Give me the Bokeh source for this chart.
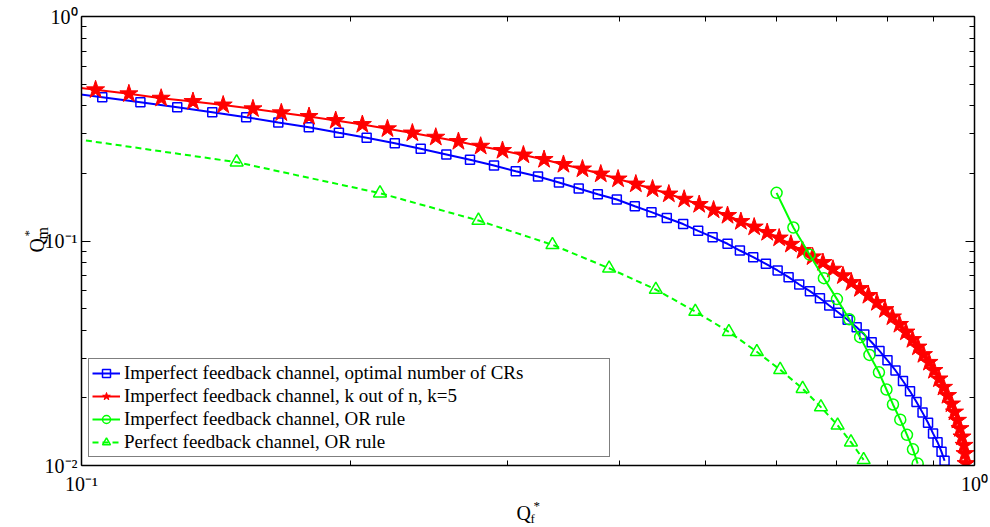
from math import pi

from bokeh.plotting import figure
from bokeh.models import (LogAxis, FixedTicker, Legend, LegendItem,
                          Range1d, CustomJSTickFormatter)
from bokeh.core.properties import value
from bokeh.embed import file_html
from bokeh.resources import INLINE

# ---- data: false-alarm probability Qf* vs missed-detection probability Qm* ----
opt_qf = [0.0956, 0.1055, 0.1164, 0.1280, 0.1401, 0.1529, 0.1661, 0.1797, 0.1942,
          0.2086, 0.2243, 0.2398, 0.2562, 0.2723, 0.2897, 0.3064, 0.3245, 0.3425,
          0.3604, 0.3786, 0.3976, 0.4165, 0.4348, 0.4523, 0.4718, 0.4904, 0.5090,
          0.5290, 0.5461, 0.5652, 0.5840, 0.6019, 0.6192, 0.6364, 0.6542, 0.6713,
          0.6876, 0.7045, 0.7210, 0.7380, 0.7526, 0.7671, 0.7827, 0.7990, 0.8157,
          0.8316, 0.8468, 0.8611, 0.8746, 0.8871, 0.8986, 0.9091, 0.9185, 0.9257]
opt_qm = [0.4586, 0.4370, 0.4152, 0.3944, 0.3747, 0.3560, 0.3372, 0.3213, 0.3034,
          0.2882, 0.2727, 0.2575, 0.2428, 0.2300, 0.2169, 0.2046, 0.1938, 0.1822,
          0.1713, 0.1616, 0.1531, 0.1429, 0.1344, 0.1266, 0.1190, 0.1110, 0.1040,
          0.0972, 0.0907, 0.0847, 0.0791, 0.0739, 0.0690, 0.0640, 0.0598, 0.0556,
          0.0516, 0.0479, 0.0446, 0.0413, 0.0383, 0.0354, 0.0324, 0.0294, 0.0265,
          0.0238, 0.0214, 0.0192, 0.0172, 0.0155, 0.0139, 0.0127, 0.0115, 0.0105]

kn_qf = [0.0952, 0.1037, 0.1130, 0.1228, 0.1333, 0.1441, 0.1556, 0.1674, 0.1798,
         0.1926, 0.2063, 0.2201, 0.2347, 0.2493, 0.2643, 0.2799, 0.2961, 0.3125,
         0.3296, 0.3465, 0.3639, 0.3815, 0.3989, 0.4176, 0.4360, 0.4547, 0.4730,
         0.4917, 0.5103, 0.5290, 0.5475, 0.5666, 0.5859, 0.6043, 0.6229, 0.6419,
         0.6587, 0.6765, 0.6942, 0.7123, 0.7281, 0.7443, 0.7607, 0.7776, 0.7938,
         0.8093, 0.8241, 0.8380, 0.8522, 0.8644, 0.8767, 0.8893, 0.9008, 0.9125,
         0.9232, 0.9328, 0.9424, 0.9498, 0.9571, 0.9633, 0.9683, 0.9733, 0.9758,
         0.9784]
kn_qm = [0.4913, 0.4715, 0.4526, 0.4326, 0.4182, 0.4035, 0.3880, 0.3724, 0.3586,
         0.3442, 0.3303, 0.3161, 0.3027, 0.2900, 0.2775, 0.2644, 0.2530, 0.2416,
         0.2307, 0.2192, 0.2093, 0.1988, 0.1889, 0.1794, 0.1705, 0.1619, 0.1535,
         0.1454, 0.1374, 0.1299, 0.1221, 0.1154, 0.1091, 0.1031, 0.0967, 0.0907,
         0.0850, 0.0802, 0.0749, 0.0700, 0.0653, 0.0614, 0.0572, 0.0532, 0.0495,
         0.0459, 0.0425, 0.0393, 0.0364, 0.0337, 0.0312, 0.0288, 0.0265, 0.0243,
         0.0223, 0.0205, 0.0188, 0.0173, 0.0159, 0.0146, 0.0134, 0.0123, 0.0113,
         0.0102]

or_imp_qf = [0.6003, 0.6269, 0.6537, 0.6782, 0.7014, 0.7240, 0.7446, 0.7627,
             0.7816, 0.7969, 0.8104, 0.8258, 0.8402, 0.8533, 0.8637]
or_imp_qm = [0.1639, 0.1148, 0.0869, 0.0683, 0.0551, 0.0448, 0.0373, 0.0311,
             0.0260, 0.0218, 0.0187, 0.0160, 0.0137, 0.0118, 0.0102]

or_perf_qf = [0.0846, 0.1492, 0.2159, 0.2783, 0.3368, 0.3898, 0.4397, 0.4868,
              0.5308, 0.5705, 0.6059, 0.6420, 0.6730, 0.7026, 0.7272, 0.7514]
or_perf_qm = [0.3106, 0.2244, 0.1633, 0.1234, 0.0962, 0.0756, 0.0608, 0.0485,
              0.0394, 0.0321, 0.0267, 0.0220, 0.0182, 0.0151, 0.0127, 0.0106]

labels = ["Imperfect feedback channel, optimal number of CRs",
          "Imperfect feedback channel, k out of n, k=5",
          "Imperfect feedback channel, OR rule",
          "Perfect feedback channel, OR rule"]

x_major = [0.1, 1.0]
x_minor = [0.2, 0.3, 0.4, 0.5, 0.6, 0.7, 0.8, 0.9]
y_major = [0.01, 0.1, 1.0]
y_minor = [0.02, 0.03, 0.04, 0.05, 0.06, 0.07, 0.08, 0.09,
           0.2, 0.3, 0.4, 0.5, 0.6, 0.7, 0.8, 0.9]

SERIF = "Liberation Serif"
BLUE, RED, GREEN = "#0000ff", "#ff0000", "#00ff00"

X_MIN, X_MAX = 0.1, 1.0
Y_MIN, Y_MAX = 0.01, 1.0

p = figure(width=990, height=527, x_axis_type="log", y_axis_type="log",
           x_range=Range1d(X_MIN, X_MAX), y_range=Range1d(Y_MIN, Y_MAX),
           output_backend="svg", toolbar_location=None,
           min_border_left=81, min_border_right=16,
           min_border_top=16, min_border_bottom=62)
p.xgrid.visible = False
p.ygrid.visible = False
p.outline_line_color = None
p.background_fill_color = "white"
p.border_fill_color = "white"

# power-of-ten tick labels with superscript exponents
pow10 = CustomJSTickFormatter(code="""
const sup = {'-': '\u207b', '0': '\u2070', '1': '\u00b9', '2': '\u00b2', '3': '\u00b3'};
const e = String(Math.round(Math.log10(tick)));
return '10' + e.split('').map(c => sup[c]).join('');
""")
blank = CustomJSTickFormatter(code="return '';")


def style_axis(ax, major, minor, show_labels, standoff=0):
    ax.ticker = FixedTicker(ticks=major, minor_ticks=minor)
    ax.formatter = pow10 if show_labels else blank
    ax.axis_line_color = "black"
    ax.axis_line_width = 1.5
    ax.major_tick_line_color = "black"
    ax.minor_tick_line_color = "black"
    ax.major_tick_line_width = 1
    ax.minor_tick_line_width = 1
    ax.major_tick_in = 9
    ax.major_tick_out = 0
    ax.minor_tick_in = 5
    ax.minor_tick_out = 0
    ax.major_label_standoff = standoff
    ax.major_label_text_font = SERIF
    ax.major_label_text_font_size = "20px" if show_labels else "0px"
    ax.major_label_text_color = "black"


style_axis(p.xaxis[0], x_major, x_minor, True, standoff=7)
style_axis(p.yaxis[0], y_major, y_minor, True, standoff=4)

top_axis = LogAxis()
right_axis = LogAxis()
style_axis(top_axis, x_major, x_minor, False)
style_axis(right_axis, y_major, y_minor, False)
p.add_layout(top_axis, "above")
p.add_layout(right_axis, "right")

# series: line first, then markers on top
opt_line = p.line(opt_qf, opt_qm, line_color=BLUE, line_width=2)
opt_mark = p.scatter(opt_qf, opt_qm, marker="square", size=9, line_color=BLUE,
                     line_width=1.5, fill_color=None)

kn_line = p.line(kn_qf, kn_qm, line_color=RED, line_width=2)
kn_mark = p.scatter(kn_qf, kn_qm, marker="star", size=19, line_color=RED,
                    line_width=1, fill_color=RED)

or_imp_line = p.line(or_imp_qf, or_imp_qm, line_color=GREEN, line_width=2)
or_imp_mark = p.scatter(or_imp_qf, or_imp_qm, marker="circle", size=11,
                        line_color=GREEN, line_width=1.5, fill_color=None)

or_perf_line = p.line(or_perf_qf, or_perf_qm, line_color=GREEN, line_width=2,
                      line_dash="6 4")
or_perf_mark = p.scatter(or_perf_qf, or_perf_qm, marker="triangle", size=13,
                         line_color=GREEN, line_width=1.5, fill_color=None)

legend = Legend(items=[
    LegendItem(label=labels[0], renderers=[opt_line, opt_mark]),
    LegendItem(label=labels[1], renderers=[kn_line, kn_mark]),
    LegendItem(label=labels[2], renderers=[or_imp_line, or_imp_mark]),
    LegendItem(label=labels[3], renderers=[or_perf_line, or_perf_mark]),
], location=(7, 8))
legend.label_text_font = SERIF
legend.label_text_font_size = "19px"
legend.label_text_color = "black"
legend.glyph_width = 28
legend.glyph_height = 20
legend.label_height = 20
legend.label_width = 482
legend.label_standoff = 4
legend.spacing = 1
legend.padding = 3
legend.margin = 0
legend.border_line_color = "black"
legend.border_line_width = 1
legend.background_fill_color = "white"
legend.background_fill_alpha = 1.0
p.add_layout(legend)


# axis titles Q*_f and Q*_m: base letter, superscript and subscript pieces,
# offset in pixels from the lower-left corner of the axes box and drawn on the
# overlay level so they sit outside the plotting frame
def add_text(text, dx, dy, size, angle=0.0):
    p.text(x=[X_MIN], y=[Y_MIN], text=[text], x_offset=dx, y_offset=dy,
           angle=angle, text_font=value(SERIF), text_font_size=value(size),
           text_color="black", text_align="left", text_baseline="alphabetic",
           level="overlay")


add_text("Q", 435, 47, "20px")
add_text("*", 452, 40, "13px")
add_text("f", 449, 53, "13px")

add_text("Q", -45, -213, "20px", angle=pi / 2)
add_text("*", -53, -229, "13px", angle=pi / 2)
add_text("m", -39, -226, "16px", angle=pi / 2)

open("out.html", "w").write(file_html(p, INLINE))
